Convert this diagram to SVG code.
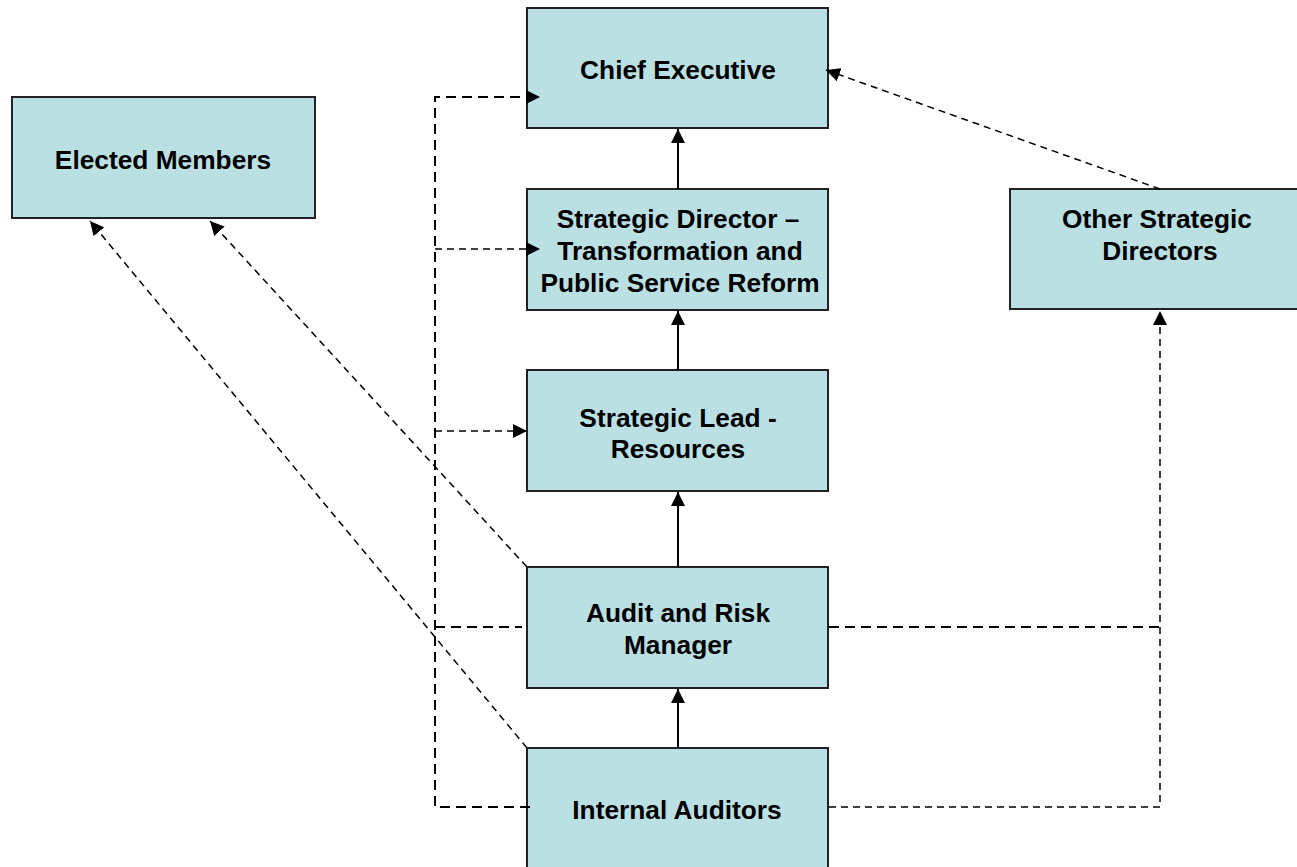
<svg xmlns="http://www.w3.org/2000/svg" width="1297" height="867" viewBox="0 0 1297 867">
  <style>
    .box { fill: #BBE0E3; stroke: #222; stroke-width: 2; }
    .lbl { font-family: "Liberation Sans", Arial, sans-serif; font-weight: bold; font-size: 26.3px; fill: #000; text-anchor: middle; }
    .solid { stroke: #000; stroke-width: 2; fill: none; }
    .dash { stroke: #000; stroke-width: 2; fill: none; stroke-dasharray: 10 6; }
    .dash-thin { stroke: #000; stroke-width: 1.5; fill: none; stroke-dasharray: 7 5; }
  </style>
  <defs>
    <marker id="arrow" viewBox="0 0 10 10" refX="10" refY="5" markerWidth="14" markerHeight="14" markerUnits="userSpaceOnUse" orient="auto">
      <path d="M0,0 L10,5 L0,10 z" fill="#000"/>
    </marker>
  </defs>

  <g id="chief-executive">
    <rect class="box" x="527" y="8" width="301" height="120"/>
    <text class="lbl" x="678" y="79">Chief Executive</text>
  </g>

  <g id="elected-members">
    <rect class="box" x="12" y="97" width="303" height="121"/>
    <text class="lbl" x="163" y="169">Elected Members</text>
  </g>

  <g id="strategic-director">
    <rect class="box" x="527" y="189" width="301" height="121"/>
    <text class="lbl" x="678" y="228">Strategic Director –</text>
    <text class="lbl" x="680" y="260">Transformation and</text>
    <text class="lbl" x="680" y="292">Public Service Reform</text>
  </g>

  <g id="other-strategic-directors">
    <rect class="box" x="1010" y="189" width="300" height="120"/>
    <text class="lbl" x="1157" y="228">Other Strategic</text>
    <text class="lbl" x="1160" y="260">Directors</text>
  </g>

  <g id="strategic-lead">
    <rect class="box" x="527" y="370" width="301" height="121"/>
    <text class="lbl" x="678" y="427">Strategic Lead -</text>
    <text class="lbl" x="678" y="458">Resources</text>
  </g>

  <g id="audit-risk-manager">
    <rect class="box" x="527" y="567" width="301" height="121"/>
    <text class="lbl" x="678" y="622">Audit and Risk</text>
    <text class="lbl" x="678" y="654">Manager</text>
  </g>

  <g id="internal-auditors">
    <rect class="box" x="527" y="748" width="301" height="124"/>
    <text class="lbl" x="677" y="819">Internal Auditors</text>
  </g>

  <!-- connectors, drawn over the boxes so arrowheads stay visible -->
  <g id="connectors">
    <!-- solid reporting line up the centre column -->
    <line class="solid" x1="678" y1="189" x2="678" y2="129" marker-end="url(#arrow)"/>
    <line class="solid" x1="678" y1="370" x2="678" y2="311" marker-end="url(#arrow)"/>
    <line class="solid" x1="678" y1="567" x2="678" y2="492" marker-end="url(#arrow)"/>
    <line class="solid" x1="678" y1="748" x2="678" y2="689" marker-end="url(#arrow)"/>

    <!-- left-hand dashed trunk and its branches -->
    <polyline class="dash" points="530,807 435,807 435,97 540,97" marker-end="url(#arrow)"/>
    <line class="dash" x1="435" y1="627" x2="522" y2="627"/>
    <line class="dash-thin" x1="435" y1="249" x2="540" y2="249" marker-end="url(#arrow)"/>
    <line class="dash-thin" x1="435" y1="431" x2="527" y2="431" marker-end="url(#arrow)"/>

    <!-- right-hand links to Other Strategic Directors -->
    <line class="dash" x1="829" y1="627" x2="1160" y2="627"/>
    <polyline class="dash-thin" points="829,807 1160,807 1160,311" marker-end="url(#arrow)"/>
    <line class="dash-thin" x1="1160" y1="189" x2="826" y2="70" marker-end="url(#arrow)"/>

    <!-- links to Elected Members -->
    <line class="dash-thin" x1="527" y1="567" x2="210" y2="221" marker-end="url(#arrow)"/>
    <line class="dash-thin" x1="527" y1="748" x2="90" y2="221" marker-end="url(#arrow)"/>
  </g>
</svg>
